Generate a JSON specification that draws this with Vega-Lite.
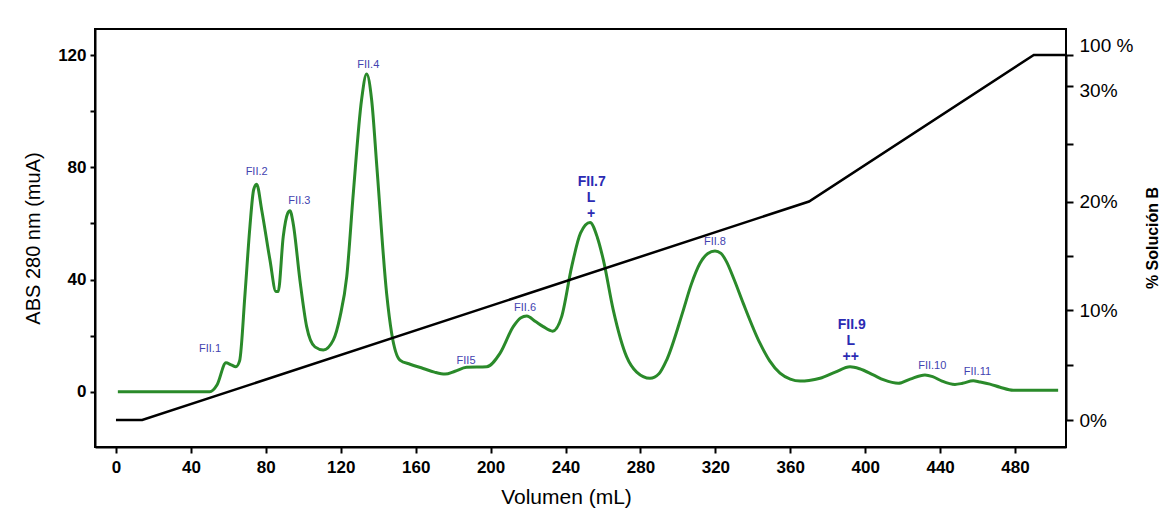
{
  "$schema": "https://vega.github.io/schema/vega-lite/v6.json",
  "width": 971,
  "height": 418,
  "autosize": "none",
  "padding": {"left": 95, "top": 29, "right": 100, "bottom": 63},
  "background": "white",
  "config": {
    "view": {"stroke": "black", "strokeWidth": 2},
    "font": "Liberation Sans"
  },
  "datasets": {
    "abs": [
      {"vol": 1, "abs": 0}, {"vol": 50, "abs": 0}, {"vol": 54, "abs": 2.5}, {"vol": 58.7, "abs": 10.3},
      {"vol": 61.5, "abs": 9.6}, {"vol": 64, "abs": 8.9}, {"vol": 66, "abs": 11}, {"vol": 68.9, "abs": 35},
      {"vol": 71.5, "abs": 58.8}, {"vol": 73.5, "abs": 72}, {"vol": 75.1, "abs": 74}, {"vol": 77.8, "abs": 64.8},
      {"vol": 82.2, "abs": 47}, {"vol": 85.4, "abs": 35.7}, {"vol": 86.6, "abs": 35.7}, {"vol": 89.3, "abs": 55.3},
      {"vol": 91.6, "abs": 63.5}, {"vol": 92.9, "abs": 64.5}, {"vol": 94.6, "abs": 60}, {"vol": 98.2, "abs": 39.8},
      {"vol": 101.8, "abs": 23.2}, {"vol": 106.2, "abs": 16}, {"vol": 110.7, "abs": 14.9}, {"vol": 116, "abs": 18.4},
      {"vol": 119.6, "abs": 26.7}, {"vol": 123.2, "abs": 41}, {"vol": 126.7, "abs": 70.7}, {"vol": 131.1, "abs": 104},
      {"vol": 133.8, "abs": 113.3}, {"vol": 136.5, "abs": 104}, {"vol": 139.3, "abs": 80}, {"vol": 144.5, "abs": 35},
      {"vol": 147.2, "abs": 20.8}, {"vol": 151.6, "abs": 11.3}, {"vol": 157, "abs": 9.8}, {"vol": 164, "abs": 8.3},
      {"vol": 170, "abs": 7}, {"vol": 175.7, "abs": 6.3}, {"vol": 181, "abs": 7.3}, {"vol": 187.2, "abs": 8.7},
      {"vol": 197.9, "abs": 8.9}, {"vol": 205, "abs": 13.7}, {"vol": 212.1, "abs": 23.2}, {"vol": 216, "abs": 26.3},
      {"vol": 219.3, "abs": 27}, {"vol": 224, "abs": 25}, {"vol": 228.1, "abs": 23.2}, {"vol": 233.1, "abs": 21.6},
      {"vol": 237.9, "abs": 26.7}, {"vol": 243.3, "abs": 44.6}, {"vol": 248, "abs": 56.5}, {"vol": 253.1, "abs": 60.3},
      {"vol": 257, "abs": 55}, {"vol": 260.2, "abs": 47}, {"vol": 265.5, "abs": 29.1}, {"vol": 272.6, "abs": 12.5},
      {"vol": 278, "abs": 7}, {"vol": 285.1, "abs": 4.8}, {"vol": 290, "abs": 6.5}, {"vol": 294, "abs": 11.3},
      {"vol": 302.9, "abs": 29.1}, {"vol": 307, "abs": 38}, {"vol": 311.8, "abs": 45.8}, {"vol": 316, "abs": 49.3},
      {"vol": 319.8, "abs": 50.2}, {"vol": 323, "abs": 49.3}, {"vol": 326, "abs": 46.3}, {"vol": 330, "abs": 40},
      {"vol": 334.9, "abs": 31.5}, {"vol": 343.8, "abs": 17.3}, {"vol": 349, "abs": 11}, {"vol": 354.5, "abs": 6.6},
      {"vol": 360, "abs": 4.5}, {"vol": 365.2, "abs": 3.8}, {"vol": 370, "abs": 4}, {"vol": 375.9, "abs": 4.8},
      {"vol": 384, "abs": 7}, {"vol": 391.9, "abs": 8.9}, {"vol": 397, "abs": 8.2}, {"vol": 404.3, "abs": 6},
      {"vol": 410, "abs": 4.2}, {"vol": 417.7, "abs": 3}, {"vol": 424, "abs": 4.5}, {"vol": 431.9, "abs": 6},
      {"vol": 436, "abs": 5.4}, {"vol": 441, "abs": 3.8}, {"vol": 447.9, "abs": 2.6}, {"vol": 452, "abs": 3},
      {"vol": 457.7, "abs": 3.9}, {"vol": 461, "abs": 3.5}, {"vol": 466.6, "abs": 2.7}, {"vol": 472, "abs": 1.6},
      {"vol": 479, "abs": 0.5}, {"vol": 503, "abs": 0.5}
    ],
    "gradient": [
      {"vol": 0, "pct": 0}, {"vol": 14, "pct": 0}, {"vol": 370, "pct": 20}, {"vol": 490, "pct": 100}, {"vol": 507, "pct": 100}
    ],
    "peaks": [
      {"label": "FII.1", "vol": 50.2, "abs": 15.1, "kind": "fraction"},
      {"label": "FII.2", "vol": 75.1, "abs": 78.4, "kind": "fraction"},
      {"label": "FII.3", "vol": 97.9, "abs": 68, "kind": "fraction"},
      {"label": "FII.4", "vol": 134.7, "abs": 116.5, "kind": "fraction"},
      {"label": "FII5", "vol": 186.9, "abs": 10.9, "kind": "fraction"},
      {"label": "FII.6", "vol": 218.4, "abs": 30, "kind": "fraction"},
      {"label": "FII.8", "vol": 319.8, "abs": 53.3, "kind": "fraction"},
      {"label": "FII.10", "vol": 435.8, "abs": 9.2, "kind": "fraction"},
      {"label": "FII.11", "vol": 459.9, "abs": 7.1, "kind": "fraction"},
      {"label": "FII.7", "vol": 254, "abs": 74.9, "kind": "active"},
      {"label": "L", "vol": 253.6, "abs": 68.9, "kind": "active"},
      {"label": "+", "vol": 253.6, "abs": 63.4, "kind": "active"},
      {"label": "FII.9", "vol": 392.8, "abs": 23.8, "kind": "active"},
      {"label": "L", "vol": 392.3, "abs": 18.2, "kind": "active"},
      {"label": "++", "vol": 392.3, "abs": 12.3, "kind": "active"}
    ]
  },
  "layer": [
    {
      "layer": [
        {
          "data": {"name": "abs"},
          "mark": {"type": "line", "color": "#2a8a2a", "strokeWidth": 3, "interpolate": "monotone"},
          "encoding": {
            "x": {
              "field": "vol", "type": "quantitative",
              "scale": {"domain": [-11.2, 507.2], "nice": false, "zero": false},
              "axis": {
                "values": [0, 40, 80, 120, 160, 200, 240, 280, 320, 360, 400, 440, 480],
                "grid": false, "title": "Volumen (mL)", "titleFontSize": 21, "titleFontWeight": "normal",
                "titleColor": "black", "titlePadding": 11, "titleX": 471,
                "labelFontSize": 17, "labelFontWeight": "bold", "labelColor": "black", "labelPadding": 6,
                "tickSize": 6, "tickWidth": 2, "tickColor": "black", "domainColor": "black", "domainWidth": 2
              }
            },
            "y": {
              "field": "abs", "type": "quantitative",
              "scale": {"domain": [-19.7, 129.3], "nice": false, "zero": false},
              "axis": {
                "orient": "left",
                "values": [0, 20, 40, 60, 80, 100, 120],
                "labelExpr": "datum.value % 40 == 0 ? datum.label : ''",
                "grid": false, "title": "ABS 280 nm (muA)", "titleFontSize": 20, "titleFontWeight": "normal",
                "titleColor": "black", "titlePadding": 14,
                "labelFontSize": 17, "labelFontWeight": "bold", "labelColor": "black", "labelPadding": 4,
                "tickSize": 5, "tickWidth": 2, "tickColor": "black", "domainColor": "black", "domainWidth": 2
              }
            }
          }
        },
        {
          "data": {"name": "peaks"},
          "transform": [{"filter": "datum.kind == 'fraction'"}],
          "mark": {"type": "text", "color": "#4343b0", "fontSize": 11, "align": "center", "baseline": "middle"},
          "encoding": {
            "x": {"field": "vol", "type": "quantitative"},
            "y": {"field": "abs", "type": "quantitative"},
            "text": {"field": "label"}
          }
        },
        {
          "data": {"name": "peaks"},
          "transform": [{"filter": "datum.kind == 'active'"}],
          "mark": {"type": "text", "color": "#2b2bb3", "fontSize": 14, "fontWeight": "bold", "align": "center", "baseline": "middle"},
          "encoding": {
            "x": {"field": "vol", "type": "quantitative"},
            "y": {"field": "abs", "type": "quantitative"},
            "text": {"field": "label"}
          }
        }
      ]
    },
    {
      "data": {"name": "gradient"},
      "mark": {"type": "line", "color": "black", "strokeWidth": 2.5},
      "encoding": {
        "x": {"field": "vol", "type": "quantitative"},
        "y": {
          "field": "pct", "type": "quantitative",
          "scale": {"domain": [0, 10, 20, 30, 100], "range": [391, 281, 172.5, 56.7, 26], "nice": false, "zero": false},
          "axis": {
            "orient": "right",
            "values": [0, 5, 10, 15, 20, 25, 30, 100],
            "labelExpr": "datum.value == 100 ? '100 %' : (datum.value % 10 == 0 ? datum.value + '%' : '')",
            "labelOffset": {"condition": [{"test": "datum.value == 100", "value": -10}, {"test": "datum.value == 30", "value": 5}], "value": 0},
            "grid": false, "title": "% Solución B", "titleFontSize": 16, "titleFontWeight": "bold",
            "titleColor": "black", "titlePadding": 28, "titleAngle": 270,
            "labelFontSize": 19, "labelFontWeight": "normal", "labelColor": "black", "labelPadding": 6,
            "tickSize": 7, "tickWidth": 2, "tickColor": "black", "domainColor": "black", "domainWidth": 2
          }
        }
      }
    }
  ],
  "resolve": {"scale": {"y": "independent"}}
}
